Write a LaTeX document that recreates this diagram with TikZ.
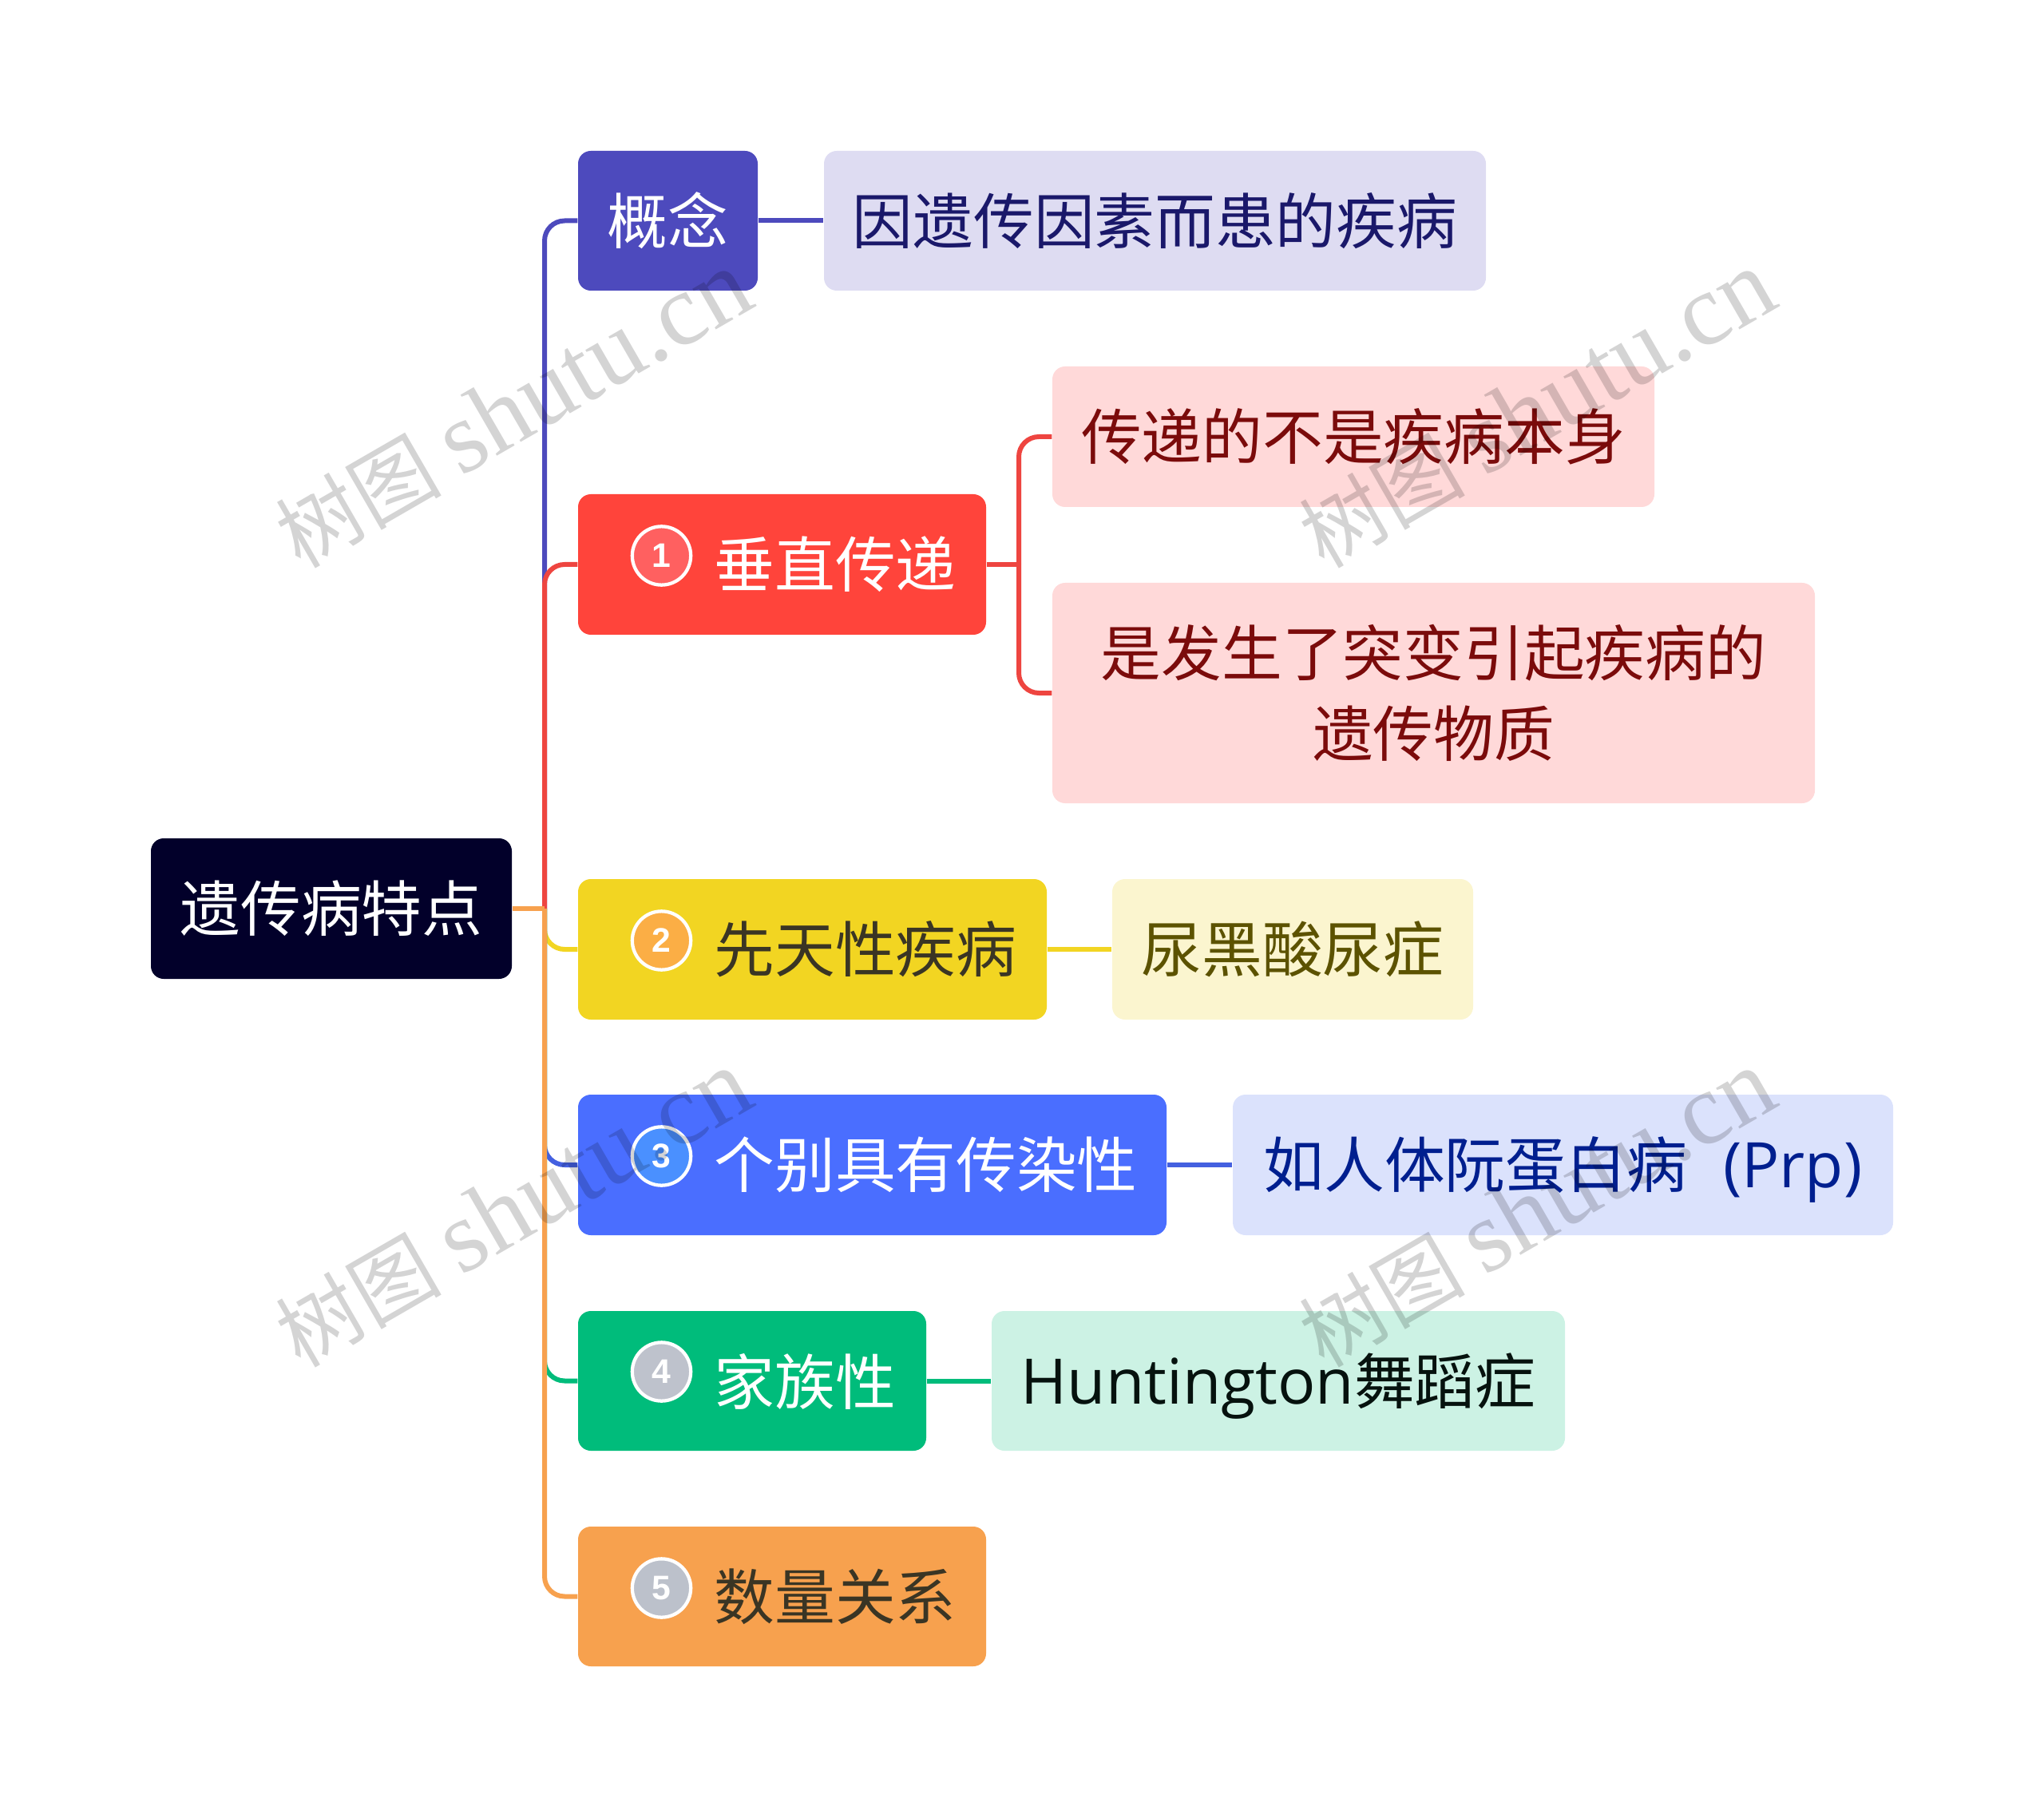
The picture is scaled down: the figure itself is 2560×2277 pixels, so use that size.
\documentclass[tikz,border=0pt]{standalone}
\usepackage{fontspec}
\setmainfont{Noto Sans CJK SC}
\newfontfamily\latinfont{Open Sans}
\newfontfamily\iconfont{Liberation Sans}
\newfontfamily\wmserif{Liberation Serif}
\definecolor{cRoot}{HTML}{02002A}
\definecolor{cA}{HTML}{4D4ABD}\definecolor{cAl}{HTML}{DEDCF2}\definecolor{cAt}{HTML}{1A186A}
\definecolor{cB}{HTML}{FF443B}\definecolor{cBl}{HTML}{FFD9D9}\definecolor{cBt}{HTML}{7B0B0B}\definecolor{cBc}{HTML}{EE4540}
\definecolor{cC}{HTML}{F2D522}\definecolor{cCl}{HTML}{FBF5CF}\definecolor{cCt}{HTML}{5C5200}
\definecolor{cD}{HTML}{4A6EFF}\definecolor{cDl}{HTML}{DBE2FC}\definecolor{cDt}{HTML}{001F8F}\definecolor{cDc}{HTML}{4460E0}
\definecolor{cE}{HTML}{00BC7B}\definecolor{cEl}{HTML}{CCF2E4}\definecolor{cEt}{HTML}{06120E}
\definecolor{cF}{HTML}{F7A14E}
\definecolor{cDark}{HTML}{3A3524}
\definecolor{iA}{HTML}{FF6060}\definecolor{iB}{HTML}{FBAE45}\definecolor{iC}{HTML}{4A90FF}\definecolor{iD}{HTML}{BEC2CC}\definecolor{iE}{HTML}{BCC1CB}
\tikzset{
  box/.style={rectangle,rounded corners=6pt,inner sep=0pt,align=center,font=\fontsize{28.4}{38}\selectfont},
  mixed/.style={text height=25pt,text depth=3.4pt},
  lbl/.style={anchor=west,inner sep=0pt,font=\fontsize{28.4}{38}\selectfont},
  conn/.style={line width=2.25pt,rounded corners=9.4pt},
  ico/.style={circle,draw=white,line width=1.6pt,minimum size=27.5pt,inner sep=0pt,text=white,font=\iconfont\bfseries\fontsize{16}{16}\selectfont},
  wm/.style={rotate=30,inner sep=0pt,text=black,opacity=0.17}
}
\newcommand{\bx}[7]{\node[box,#6,minimum width={(#4-#2)*0.375pt},minimum height={(#5-#3)*0.375pt}] (#1) at ({(#2+#4)/2},{(#3+#5)/2}) {#7};}
\newcommand{\wmk}[3]{\node[wm] (#1) at (#2,#3) {\fontsize{39}{39}\selectfont 树图 \wmserif\fontsize{48}{48}\selectfont shutu.cn};}
\begin{document}
\begin{tikzpicture}[x=0.375pt,y=-0.375pt]
\useasboundingbox (0,0) rectangle (2560,2277);
\bx{root}{189}{1050}{641}{1226}{fill=cRoot,text=white}{遗传病特点}
\bx{con}{724}{189}{949}{364}{fill=cA,text=white}{概念}
\bx{conc}{1032}{189}{1861}{364}{fill=cAl,text=cAt}{因遗传因素而患的疾病}
\bx{red}{724}{619}{1235}{795}{fill=cB}{}
\bx{pa}{1318}{459}{2072}{635}{fill=cBl,text=cBt}{传递的不是疾病本身}
\bx{pb}{1318}{730}{2273}{1006}{fill=cBl,text=cBt}{是发生了突变引起疾病的\\遗传物质}
\bx{yel}{724}{1101}{1311}{1277}{fill=cC}{}
\bx{yelc}{1393}{1101}{1845}{1277}{fill=cCl,text=cCt}{尿黑酸尿症}
\bx{blu}{724}{1371}{1461}{1547}{fill=cD}{}
\bx{bluc}{1544}{1371}{2371}{1547}{fill=cDl,text=cDt,mixed}{如人体阮蛋白病\hspace{17pt}{\latinfont\fontsize{29.5}{38}\selectfont(Prp)}}
\bx{gre}{724}{1642}{1160}{1817}{fill=cE}{}
\bx{grec}{1242}{1642}{1960}{1817}{fill=cEl,text=cEt,mixed}{{\latinfont\fontsize{29.5}{38}\selectfont Huntington}舞蹈症}
\bx{ora}{724}{1912}{1235}{2087}{fill=cF}{}
\node[lbl,text=white] (redt) at (894,707) {垂直传递};
\node[lbl,text=cDark] (yelt) at (894,1189) {先天性疾病};
\node[lbl,text=white] (blut) at (894,1459) {个别具有传染性};
\node[lbl,text=white] (gret) at (894,1730) {家族性};
\node[lbl,text=cDark] (orat) at (894,2000) {数量关系};
\node[ico,fill=iA] (i1) at (828.5,696) {1};
\node[ico,fill=iB] (i2) at (828.5,1178) {2};
\node[ico,fill=iC] (i3) at (828.5,1448) {3};
\node[ico,fill=iD] (i4) at (828.5,1718) {4};
\node[ico,fill=iE] (i5) at (828.5,1989) {5};
\coordinate (t) at (682,1138);
\coordinate (u) at (1276,707);
\draw[conn,cA] (t) -- (t|-con.west) -- (con.west);
\draw[conn,cBc] (t) -- (t|-red.west) -- (red.west);
\draw[conn,cC] (t) -- (t|-yel.west) -- (yel.west);
\draw[conn,cDc] (t) -- (t|-blu.west) -- (blu.west);
\draw[conn,cE] (t) -- (t|-gre.west) -- (gre.west);
\draw[conn,cF] (t) -- (t|-ora.west) -- (ora.west);
\draw[conn,cF] (root.east) -- (t);
\draw[conn,cA] (con.east) -- (conc.west);
\draw[conn,cBc] (red.east) -- (u);
\draw[conn,cBc] (u) -- (u|-pa.west) -- (pa.west);
\draw[conn,cBc] (u) -- (u|-pb.west) -- (pb.west);
\draw[conn,cC] (yel.east) -- (yelc.west);
\draw[conn,cDc] (blu.east) -- (bluc.west);
\draw[conn,cE] (gre.east) -- (grec.west);
\wmk{w1}{643}{513}
\wmk{w2}{1925}{513}
\wmk{w3}{643}{1514}
\wmk{w4}{1925}{1514}
\end{tikzpicture}
\end{document}
